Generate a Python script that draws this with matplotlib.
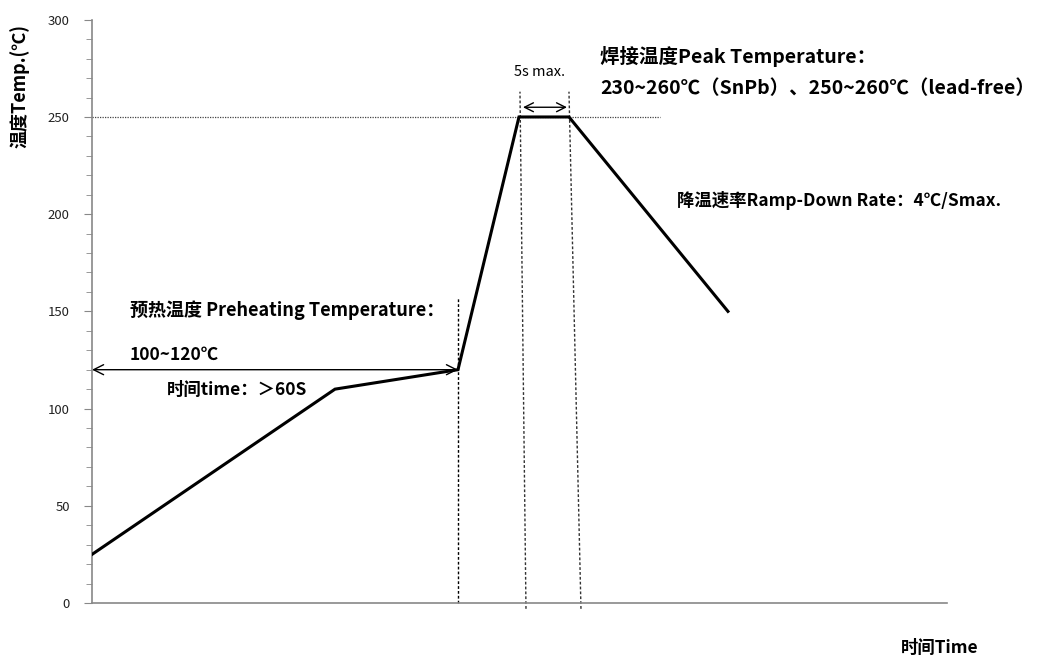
import matplotlib
matplotlib.use('Agg')
import matplotlib.pyplot as plt
from matplotlib.ticker import MultipleLocator

plt.rcParams['font.family'] = ['Noto Sans CJK SC', 'DejaVu Sans']

# reflow profile (time in arbitrary units, temp in C)
time = [0, 243, 366, 427, 477, 636]
temp = [25, 110, 120, 250, 250, 150]

# guide lines
preheat_end = 366
preheat_top = 157
peak_left = [(434, -3), (428, 263)]
peak_right = [(489, -3), (477, 263)]
peak_level = 250
peak_level_end = 568

yticks = [0, 50, 100, 150, 200, 250, 300]

fig = plt.figure(figsize=(10.4, 6.59), dpi=100)
ax = fig.add_axes([0.0885, 0.085, 0.822, 0.885])

ax.plot(time, temp, color='black', lw=2.2, solid_joinstyle='miter', zorder=3)

ax.plot([preheat_end, preheat_end], [0, preheat_top], color='black', lw=1,
        ls=(0, (2, 1.5)), clip_on=False)
for seg in (peak_left, peak_right):
    ax.plot([seg[0][0], seg[1][0]], [seg[0][1], seg[1][1]], color='#333333',
            lw=1, ls=(0, (2, 1.5)), clip_on=False)
ax.plot([0, peak_level_end], [peak_level, peak_level], color='#444444', lw=0.9,
        ls=(0, (1, 1)))

# arrows
ax.annotate('', xy=(0, 120), xytext=(preheat_end, 120),
            arrowprops=dict(arrowstyle='<->', color='black', lw=1,
                            shrinkA=0, shrinkB=0, mutation_scale=18))
ax.annotate('', xy=(431, 255), xytext=(475, 255),
            arrowprops=dict(arrowstyle='<->', color='black', lw=1,
                            shrinkA=0, shrinkB=0, mutation_scale=16))

# text
ax.text(448, 273, '5s max.', ha='center', va='center', fontsize=10.5)
ax.text(508, 281, '焊接温度Peak Temperature：', ha='left', va='center',
        fontsize=14, fontweight='bold')
ax.text(508, 264.5, '230~260℃（SnPb）、250~260℃（lead-free）', ha='left',
        va='center', fontsize=14, fontweight='bold')
ax.text(585, 207, '降温速率Ramp-Down Rate：4℃/Smax.', ha='left', va='center',
        fontsize=12.5, fontweight='bold')
ax.text(38, 150.5, '预热温度 Preheating Temperature：', ha='left', va='center',
        fontsize=13, fontweight='bold')
ax.text(38, 127.5, '100~120℃', ha='left', va='center',
        fontsize=12.5, fontweight='bold')
ax.text(75, 109.5, '时间time：＞60S', ha='left', va='center',
        fontsize=12.5, fontweight='bold')

fig.text(940 / 1040, 1 - 648 / 659, '时间Time', ha='center', va='center',
         fontsize=12.5, fontweight='bold')
fig.text(20 / 1040, 1 - 86 / 659, '温度Temp.(℃)', ha='center', va='center',
         rotation=90, fontsize=13, fontweight='bold')

ax.set_xlim(0, 855)
ax.set_ylim(0, 300)
ax.set_yticks(yticks)
ax.yaxis.set_minor_locator(MultipleLocator(10))
ax.set_xticks([])
ax.tick_params(axis='y', which='major', length=6, color='#888888',
               labelsize=9.5, labelcolor='#222222', pad=10)
ax.tick_params(axis='y', which='minor', length=4, color='#888888')
for side in ('top', 'right'):
    ax.spines[side].set_visible(False)
for side in ('left', 'bottom'):
    ax.spines[side].set_color('#888888')
    ax.spines[side].set_linewidth(1.2)

plt.savefig('out.png', dpi=100)
